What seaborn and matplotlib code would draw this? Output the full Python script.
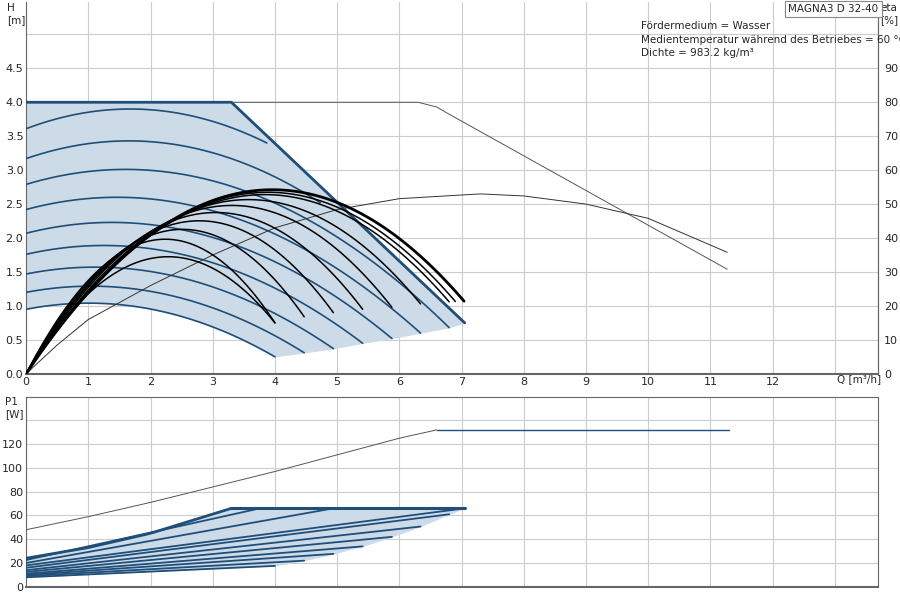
import numpy as np
import pandas as pd
import matplotlib
matplotlib.use("Agg")
import matplotlib.pyplot as plt
import seaborn as sns

# --- values ---
# speed curves H(Q): start head, peak (Q, H), end point (Q, H)
h_start = [0.95, 1.20, 1.47, 1.76, 2.07, 2.42, 2.79, 3.17, 3.61]
h_peak_q = [1.08, 1.15, 1.25, 1.30, 1.40, 1.50, 1.50, 1.55, 1.60]
h_peak = [1.04, 1.29, 1.57, 1.89, 2.23, 2.60, 3.01, 3.43, 3.90]
h_end_q = [4.00, 4.47, 4.94, 5.41, 5.88, 6.34, 6.80, 4.73, 3.87]
h_end = [0.25, 0.31, 0.37, 0.45, 0.52, 0.60, 0.68, 2.52, 3.40]

# max curve / operating area boundary
bound_q = [0.0, 3.3, 7.05]
bound_h = [4.0, 4.0, 0.75]

# efficiency curves (eta %): peak (Q, eta), end (Q, eta)
eta_peak_q = [3.7, 3.6, 3.5, 3.4, 3.3, 3.2, 3.0, 2.8, 2.6, 2.4]
eta_peak = [54.0, 53.2, 52.4, 51.2, 49.6, 47.4, 44.8, 42.0, 38.6, 34.4]
eta_end_q = [7.04, 6.90, 6.80, 6.34, 5.88, 5.41, 4.94, 4.47, 4.00, 4.00]
eta_end = [21.4, 21.3, 21.2, 20.6, 19.6, 19.0, 18.0, 16.8, 15.0, 15.0]

# thin max curves (full range)
hmax_q = [0.0, 6.3, 6.6, 6.75, 11.27]
hmax_h = [4.0, 4.0, 3.93, 3.85, 1.54]
etamax_q = [0, 0.5, 1, 2, 3, 4, 5, 6, 7.3, 8, 9, 10, 11.27]
etamax = [0, 8.5, 16, 26, 35, 43, 48.4, 51.6, 53, 52.4, 50, 45.8, 35.8]

# power P1 [W]
p_start = [8, 9, 10, 11, 12.5, 14, 16, 18, 20, 22.5]
p_end_q = [4.00, 4.47, 4.94, 5.41, 5.88, 6.34, 6.80, 7.05, 4.94, 3.76]
p_end = [17.6, 22.0, 27.7, 34.0, 42.0, 50.7, 61.0, 66.0, 66.0, 66.0]
pbound_q = [0, 1, 2, 3.3, 7.05]
pbound = [24, 33, 45, 66, 66]
pmax_q = [0, 1, 2, 3, 4, 5, 6, 6.6, 11.3]
pmax = [48, 59, 71, 84, 97, 111, 125, 132, 132]

BLUE = "#1f4e79"
FILL = "#cddbe8"
GRID = "#cccccc"

sns.set_style("white")
plt.rcParams["font.family"] = ["DejaVu Sans"]

fig = plt.figure(figsize=(9, 6), dpi=100)
ax = fig.add_axes([0.029, 0.377, 0.947, 0.62])
axb = fig.add_axes([0.029, 0.022, 0.947, 0.317])


def bound_at(q):
    return np.interp(q, bound_q, bound_h)


def line(a, x, y, **kw):
    sns.lineplot(x=np.asarray(x), y=np.asarray(y), ax=a, sort=False,
                 estimator=None, legend=False, **kw)


# operating area fill (top)
q_low = np.linspace(0, h_end_q[0], 60)
c0 = np.polyfit([0, h_peak_q[0], h_end_q[0]], [h_start[0], h_peak[0], h_end[0]], 2)
poly_q = list(bound_q) + h_end_q[6::-1] + list(q_low[::-1])
poly_h = list(bound_h) + h_end[6::-1] + list(np.polyval(c0, q_low[::-1]))
ax.fill(poly_q, poly_h, color=FILL, zorder=1)

for i in range(len(h_start)):
    c = np.polyfit([0, h_peak_q[i], h_end_q[i]], [h_start[i], h_peak[i], h_end[i]], 2)
    q = np.linspace(0, h_end_q[i], 120)
    h = np.polyval(c, q)
    keep = h <= bound_at(q) + 0.01
    line(ax, q[keep], h[keep], color=BLUE, linewidth=1.2, zorder=3)
line(ax, bound_q, bound_h, color=BLUE, linewidth=2, zorder=4)
line(ax, hmax_q, hmax_h, color="#555555", linewidth=0.7, zorder=3)

# efficiency curves on H scale (eta = 20 * H)
for i in range(len(eta_peak)):
    qp, ep, qe, ee = eta_peak_q[i], eta_peak[i] / 20, eta_end_q[i], eta_end[i] / 20
    A = np.array([[qp, qp ** 2], [qe, qe ** 2]])
    a, b = np.linalg.solve(A, [ep, ee])
    q = np.linspace(0, qe, 120)
    line(ax, q, a * q + b * q ** 2, color="black",
         linewidth=2 if i == 0 else 1.1, zorder=5)
line(ax, etamax_q, np.array(etamax) / 20, color="#333333", linewidth=0.7, zorder=3)

ymax = 5.48
ax.set_xlim(0, 13.7)
ax.set_ylim(0, ymax)
ax.set_xticks(range(14))
ax.set_xticklabels([str(i) for i in range(13)] + [""], fontsize=8)
ax.set_yticks(np.arange(0, 5.01, 0.5))
ax.set_yticklabels([f"{v:.1f}" for v in np.arange(0, 4.51, 0.5)] + [""], fontsize=8)
ax.grid(True, color=GRID, linewidth=0.8)
ax.set_axisbelow(True)
ax.spines["top"].set_visible(False)
ax.spines["left"].set_color("#666666")
ax.spines["bottom"].set_color("#666666")
ax.spines["bottom"].set_linewidth(1.5)
ax.spines["right"].set_color("#666666")
ax.tick_params(length=0, pad=2)

ax2 = ax.twinx()
ax2.set_ylim(0, ymax * 20)
ax2.set_yticks(range(0, 91, 10))
ax2.set_yticklabels([str(v) for v in range(0, 91, 10)], fontsize=8)
ax2.tick_params(length=0, pad=4)
for s in ["top", "left", "bottom"]:
    ax2.spines[s].set_visible(False)
ax2.spines["right"].set_color("#666666")

# power plot
pq = np.linspace(0, 3.3, 40)
pb = np.interp(pq, pbound_q, pbound)
ppoly_q = list(pq) + [7.05] + p_end_q[7::-1] + [0]
ppoly = list(pb) + [66] + p_end[7::-1] + [p_start[0]]
axb.fill(ppoly_q, ppoly, color=FILL, zorder=1)
for i in range(len(p_start)):
    line(axb, [0, p_end_q[i]], [p_start[i], p_end[i]], color=BLUE, linewidth=1.3, zorder=3)
line(axb, pq, pb, color=BLUE, linewidth=2, zorder=4)
line(axb, [3.3, 7.05], [66, 66], color=BLUE, linewidth=2.2, zorder=4)
line(axb, pmax_q[:-1], pmax[:-1], color="#555555", linewidth=0.7, zorder=3)
line(axb, pmax_q[-2:], pmax[-2:], color=BLUE, linewidth=1, zorder=3)

axb.set_xlim(0, 13.7)
axb.set_ylim(0, 160)
axb.set_xticks(range(14))
axb.set_xticklabels([])
axb.set_yticks(range(0, 141, 20))
axb.set_yticklabels([str(v) for v in range(0, 121, 20)] + [""], fontsize=8)
axb.grid(True, color=GRID, linewidth=0.8)
axb.set_axisbelow(True)
for s in axb.spines.values():
    s.set_color("#666666")
axb.spines["bottom"].set_linewidth(1.5)
axb.tick_params(length=0, pad=2)

# texts
fig.text(0.008, 0.995, "H\n[m]", fontsize=7.5, va="top", ha="left")
fig.text(0.978, 0.995, "eta\n[%]", fontsize=7.5, va="top", ha="left")
fig.text(0.93, 0.368, "Q [m³/h]", fontsize=7.5, va="center", ha="left")
fig.text(0.006, 0.338, "P1\n[W]", fontsize=7.5, va="top", ha="left")
fig.text(0.926, 0.985, "MAGNA3 D 32-40", fontsize=7.5, va="center", ha="center",
         bbox=dict(boxstyle="square,pad=0.3", fc="white", ec="#888888", lw=0.8))
fig.text(0.712, 0.957, "Fördermedium = Wasser", fontsize=7.5, va="center")
fig.text(0.712, 0.934, "Medientemperatur während des Betriebes = 60 °C", fontsize=7.5, va="center")
fig.text(0.712, 0.912, "Dichte = 983.2 kg/m³", fontsize=7.5, va="center")

fig.savefig("out.png", dpi=100)
